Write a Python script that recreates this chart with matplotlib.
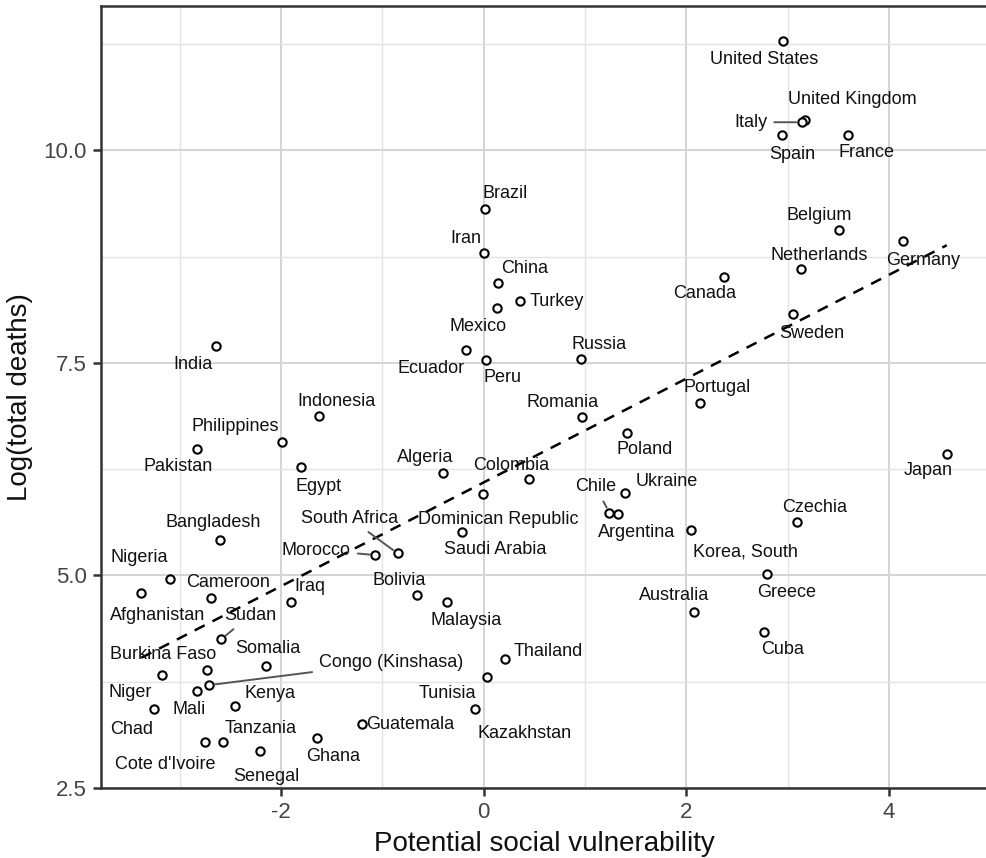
import numpy as np
import matplotlib
matplotlib.use("Agg")
import matplotlib.pyplot as plt

plt.rcParams['font.family'] = ['Liberation Sans', 'DejaVu Sans']
plt.rcParams['axes.unicode_minus'] = False

countries = [
    "United States", "United Kingdom", "Italy", "Spain", "France",
    "Brazil", "Iran", "China", "Belgium", "Germany", "Netherlands",
    "Canada", "Turkey", "Mexico", "Ecuador", "Peru", "Russia", "Sweden",
    "Romania", "Portugal", "Poland", "Algeria", "Colombia",
    "Dominican Republic", "Saudi Arabia", "Chile", "Ukraine", "Argentina",
    "Korea, South", "Czechia", "Greece", "Japan", "Bolivia", "Malaysia",
    "Australia", "Cuba", "Thailand", "Tunisia", "Kazakhstan", "Guatemala",
    "Ghana", "Senegal", "Cote d'Ivoire", "Tanzania", "Chad", "Mali",
    "Kenya", "Niger", "Burkina Faso", "Somalia", "Congo (Kinshasa)",
    "Sudan", "Afghanistan", "Cameroon", "Iraq", "Nigeria", "Bangladesh",
    "Morocco", "South Africa", "India", "Indonesia", "Philippines",
    "Pakistan", "Egypt",
]

vulnerability = [
    2.95, 3.17, 3.14, 2.94, 3.60,
    0.01, 0.00, 0.14, 3.51, 4.14, 3.13,
    2.37, 0.36, 0.13, -0.17, 0.02, 0.96, 3.05,
    0.97, 2.13, 1.41, -0.40, 0.45,
    -0.01, -0.21, 1.24, 1.39, 1.33,
    2.05, 3.09, 2.80, 4.57, -0.66, -0.36,
    2.08, 2.77, 0.21, 0.03, -0.09, -1.20,
    -1.65, -2.21, -2.75, -2.57, -3.25, -2.83,
    -2.45, -3.18, -2.73, -2.15, -2.71,
    -2.59, -3.38, -2.69, -1.90, -3.10, -2.60,
    -1.07, -0.85, -2.64, -1.63, -1.99,
    -2.83, -1.80,
]

log_deaths = [
    11.28, 10.36, 10.33, 10.18, 10.18,
    9.31, 8.79, 8.44, 9.06, 8.93, 8.60,
    8.51, 8.23, 8.15, 7.65, 7.53, 7.55, 8.07,
    6.86, 7.03, 6.68, 6.21, 6.13,
    5.96, 5.51, 5.74, 5.97, 5.72,
    5.54, 5.63, 5.02, 6.43, 4.77, 4.69,
    4.57, 4.34, 4.02, 3.80, 3.43, 3.25,
    3.09, 2.94, 3.04, 3.04, 3.43, 3.64,
    3.47, 3.83, 3.89, 3.94, 3.71,
    4.25, 4.79, 4.73, 4.69, 4.96, 5.42,
    5.24, 5.26, 7.70, 6.88, 6.57,
    6.49, 6.27,
]

# label placement (pixel offsets of the label centre from its point, y down)
label_offsets = [
    (-18, 18), (47, -20), (-51, 0), (11, 20), (18, 18),
    (20, -15), (-18, -15), (27, -14), (-20, -15), (20, 19), (18, -14),
    (-19, 17), (37, 1), (-19, 19), (-35, 18), (17, 17), (18, -14), (19, 19),
    (-19, -15), (18, -15), (18, 17), (-18, -15), (-18, -14),
    (16, 26), (33, 17), (-14, -26), (42, -11), (18, 18),
    (54, 22), (18, -14), (19, 19), (-19, 17), (-18, -14), (19, 19),
    (-20, -16), (18, 18), (43, -7), (-39, 16), (50, 25), (48, 0),
    (17, 19), (7, 26), (-40, 22), (37, -14), (-23, 21), (-8, 18),
    (35, -12), (-31, 18), (-44, -15), (2, -17), (182, -23),
    (29, -24), (16, 22), (17, -16), (19, -15), (-30, -21), (-7, -17),
    (-59, -5), (-48, -35), (-23, 19), (18, -14), (-47, -15),
    (-19, 18), (17, 19),
]
with_segment = {"Italy", "Chile", "Morocco", "South Africa",
                "Congo (Kinshasa)", "Sudan"}

x = np.array(vulnerability)
y = np.array(log_deaths)

fig = plt.figure(figsize=(9.87, 8.58), dpi=100)
ax = fig.add_axes([101 / 987, 70 / 858, 1 - 101 / 987, (788 - 6) / 858])

# linear fit shown as dashed line across the data range
slope, intercept = np.polyfit(x, y, 1)
xs = np.array([x.min(), x.max()])
ax.plot(xs, intercept + slope * xs, ls=(0, (4.5, 3.5)), color='black', lw=1.8, zorder=2)

ax.scatter(x, y, s=36, facecolors='white', edgecolors='black', linewidths=1.5, zorder=3)

for name, px, py, (dx, dy) in zip(countries, x, y, label_offsets):
    if name in with_segment:
        ax.annotate(name, (px, py), xytext=(dx, -dy), textcoords='offset pixels',
                    ha='center', va='center', fontsize=13, color='#111111', zorder=4,
                    arrowprops=dict(arrowstyle='-', color='#555555', lw=1.4,
                                    shrinkA=3, shrinkB=4))
    else:
        ax.annotate(name, (px, py), xytext=(dx, -dy), textcoords='offset pixels',
                    ha='center', va='center', fontsize=13, color='#111111', zorder=4)

xpad = 0.05 * (x.max() - x.min())
ypad = 0.05 * (y.max() - y.min())
ax.set_xlim(x.min() - xpad, x.max() + xpad)
ax.set_ylim(y.min() - ypad, y.max() + ypad)

ax.set_xticks([-2, 0, 2, 4])
ax.set_xticklabels(['-2', '0', '2', '4'])
ax.set_yticks([2.5, 5.0, 7.5, 10.0])
ax.set_yticklabels(['2.5', '5.0', '7.5', '10.0'])
ax.set_xticks([-3, -1, 1, 3], minor=True)
ax.set_yticks([3.75, 6.25, 8.75, 11.25], minor=True)

ax.grid(which='major', color='#d4d4d4', lw=1.4, zorder=0)
ax.grid(which='minor', color='#e3e3e3', lw=1.0, zorder=0)
ax.set_axisbelow(True)

for side in ['left', 'bottom', 'top']:
    ax.spines[side].set_color('#333333')
    ax.spines[side].set_linewidth(1.8)
ax.spines['right'].set_visible(False)

ax.tick_params(which='major', length=6, width=1.8, color='#333333',
               labelsize=16, labelcolor='#444444', pad=4)
ax.tick_params(which='minor', length=0)

ax.set_xlabel('Potential social vulnerability', fontsize=20, color='#111111', labelpad=6)
ax.set_ylabel('Log(total deaths)', fontsize=20, color='#111111', labelpad=8)

fig.savefig('out.png', dpi=100)
